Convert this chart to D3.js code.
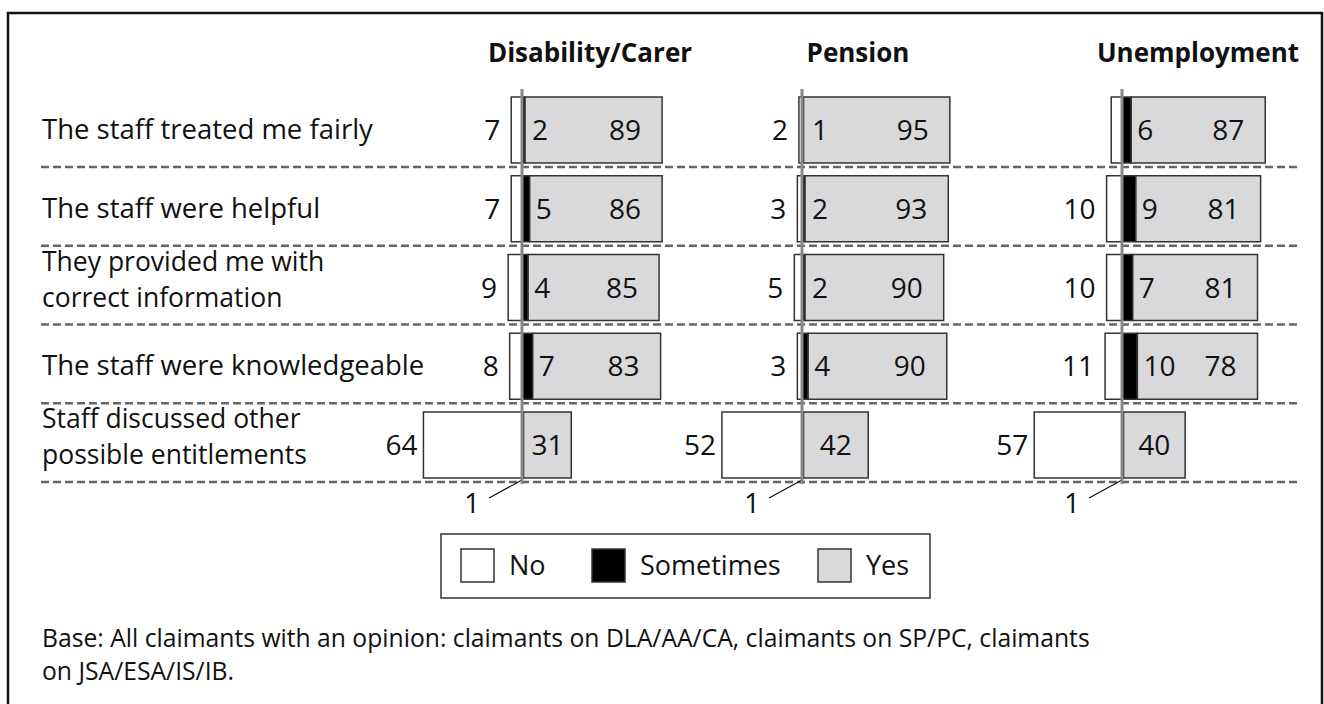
<!DOCTYPE html>
<html>
  <head>
    <script src="https://d3js.org/d3.v7.min.js"></script>
  </head>
  <style>
    body { margin: 0; background: #fff; }
    text { font-family: "Open Sans", sans-serif; fill: #111; }
  </style>
  <body>
    <svg width="1324" height="704"></svg>
    <script>
      // chart data
      var panels = ["Disability/Carer", "Pension", "Unemployment"];
      var statements = [
        ["The staff treated me fairly"],
        ["The staff were helpful"],
        ["They provided me with", "correct information"],
        ["The staff were knowledgeable"],
        ["Staff discussed other", "possible entitlements"],
      ];
      var categories = ["No", "Sometimes", "Yes"];

      var disabilityNo = [7, 7, 9, 8, 64];
      var disabilitySometimes = [2, 5, 4, 7, 1];
      var disabilityYes = [89, 86, 85, 83, 31];

      var pensionNo = [2, 3, 5, 3, 52];
      var pensionSometimes = [1, 2, 2, 4, 1];
      var pensionYes = [95, 93, 90, 90, 42];

      var unemploymentNo = [7, 10, 10, 11, 57];
      var unemploymentSometimes = [6, 9, 7, 10, 1];
      var unemploymentYes = [87, 81, 81, 78, 40];

      // the "No" value of unemployment / row 1 carries no label in the source
      var unlabelledNo = [[2, 0]];

      var footnote = [
        "Base: All claimants with an opinion: claimants on DLA/AA/CA, claimants on SP/PC, claimants",
        "on JSA/ESA/IS/IB.",
      ];

      var series = [
        [disabilityNo, disabilitySometimes, disabilityYes],
        [pensionNo, pensionSometimes, pensionYes],
        [unemploymentNo, unemploymentSometimes, unemploymentYes],
      ];

      var svg = d3.select("svg");
      var fill = { No: "#ffffff", Sometimes: "#000000", Yes: "#d9d9db" };
      var numSize = "28px";

      // outer frame
      svg
        .append("rect")
        .attr("x", 8)
        .attr("y", 13)
        .attr("width", 1314)
        .attr("height", 720)
        .attr("fill", "none")
        .attr("stroke", "#111")
        .attr("stroke-width", 2.5);

      // scales
      var zero = d3.scaleOrdinal().domain(panels).range([522, 802, 1122]);
      var headerX = [590, 858, 1198];
      var x = d3.scaleLinear().domain([0, 100]).range([0, 154]);
      var y = d3
        .scaleBand()
        .domain(d3.range(statements.length))
        .range([97, 478])
        .paddingInner(0.162);

      // headers
      svg
        .selectAll("text.header")
        .data(panels)
        .enter()
        .append("text")
        .attr("class", "header")
        .attr("x", function (d, i) {
          return headerX[i];
        })
        .attr("y", 62)
        .attr("text-anchor", "middle")
        .style("font-size", "26px")
        .style("font-weight", "bold")
        .text(function (d) {
          return d;
        });

      // row separators
      svg
        .selectAll("line.sep")
        .data(statements)
        .enter()
        .append("line")
        .attr("class", "sep")
        .attr("x1", 41)
        .attr("x2", 1298)
        .attr("y1", function (d, i) {
          return y(i) + y.bandwidth() + 4;
        })
        .attr("y2", function (d, i) {
          return y(i) + y.bandwidth() + 4;
        })
        .attr("stroke", "#666")
        .attr("stroke-width", 2.5)
        .attr("stroke-dasharray", "8,4");

      // row labels, one text per line
      statements.forEach(function (lines, i) {
        var cy = y(i) + y.bandwidth() / 2;
        lines.forEach(function (s, k) {
          var base =
            lines.length === 1 ? cy + 9 : cy + (k === 0 ? -17 : 19.2);
          svg
            .append("text")
            .attr("x", 42)
            .attr("y", base)
            .style("font-size", lines.length === 1 ? "27.5px" : "26.5px")
            .text(s);
        });
      });

      // bars
      panels.forEach(function (p, pi) {
        var z = zero(p);
        var g = svg.append("g");
        var no = series[pi][0],
          some = series[pi][1],
          yes = series[pi][2];

        statements.forEach(function (s, i) {
          var top = y(i),
            h = y.bandwidth(),
            cy = top + h / 2;
          var segs = [
            { cat: "No", x0: z - x(no[i]), w: x(no[i]) },
            { cat: "Sometimes", x0: z, w: x(some[i]) },
            { cat: "Yes", x0: z + x(some[i]), w: x(yes[i]) },
          ];
          g.selectAll(null)
            .data(segs)
            .enter()
            .append("rect")
            .attr("x", function (d) {
              return d.x0;
            })
            .attr("y", top)
            .attr("width", function (d) {
              return d.w;
            })
            .attr("height", h)
            .attr("fill", function (d) {
              return fill[d.cat];
            })
            .attr("stroke", "#333")
            .attr("stroke-width", 1.5);

          var last = i === statements.length - 1;
          var hideNo = unlabelledNo.some(function (u) {
            return u[0] === pi && u[1] === i;
          });

          // No label
          if (!hideNo) {
            g.append("text")
              .attr("x", z - x(no[i]) - (last ? 6 : 11))
              .attr("y", cy + 10)
              .attr("text-anchor", "end")
              .style("font-size", numSize)
              .text(no[i]);
          }

          if (!last) {
            // Sometimes label
            g.append("text")
              .attr("x", z + Math.max(x(some[i]), 4) + 6)
              .attr("y", cy + 10)
              .style("font-size", numSize)
              .text(some[i]);
            // Yes label
            g.append("text")
              .attr("x", z + x(some[i]) + x(yes[i]) - 21)
              .attr("y", cy + 10)
              .attr("text-anchor", "end")
              .style("font-size", numSize)
              .text(yes[i]);
          } else {
            g.append("text")
              .attr("x", z + x(some[i]) + x(yes[i]) / 2)
              .attr("y", cy + 10)
              .attr("text-anchor", "middle")
              .style("font-size", numSize)
              .text(yes[i]);
            // sometimes value with leader line
            var by = top + h + 2;
            g.append("line")
              .attr("x1", z)
              .attr("y1", by)
              .attr("x2", z - 33)
              .attr("y2", by + 18)
              .attr("stroke", "#111")
              .attr("stroke-width", 1.2);
            g.append("text")
              .attr("x", z - 50)
              .attr("y", by + 33)
              .attr("text-anchor", "middle")
              .style("font-size", numSize)
              .text(some[i]);
          }
        });

        // zero line
        g.append("line")
          .attr("x1", z)
          .attr("x2", z)
          .attr("y1", 89)
          .attr("y2", 484)
          .attr("stroke", "#888")
          .attr("stroke-width", 3);
      });

      // legend
      var leg = svg.append("g").attr("transform", "translate(441,534)");
      leg
        .append("rect")
        .attr("width", 489)
        .attr("height", 64)
        .attr("fill", "#fff")
        .attr("stroke", "#333")
        .attr("stroke-width", 1.5);
      var legX = [20, 151, 377];
      var item = leg
        .selectAll("g.item")
        .data(categories)
        .enter()
        .append("g")
        .attr("transform", function (d, i) {
          return "translate(" + legX[i] + ",15)";
        });
      item
        .append("rect")
        .attr("width", 33)
        .attr("height", 33)
        .attr("fill", function (d) {
          return fill[d];
        })
        .attr("stroke", "#333")
        .attr("stroke-width", 1.5);
      item
        .append("text")
        .attr("x", 48)
        .attr("y", 26)
        .style("font-size", "27px")
        .text(function (d) {
          return d;
        });

      // footnote
      svg
        .selectAll("text.foot")
        .data(footnote)
        .enter()
        .append("text")
        .attr("class", "foot")
        .attr("x", 42)
        .attr("y", function (d, i) {
          return 647 + i * 33;
        })
        .style("font-size", "24.7px")
        .text(function (d) {
          return d;
        });
    </script>
  </body>
</html>
